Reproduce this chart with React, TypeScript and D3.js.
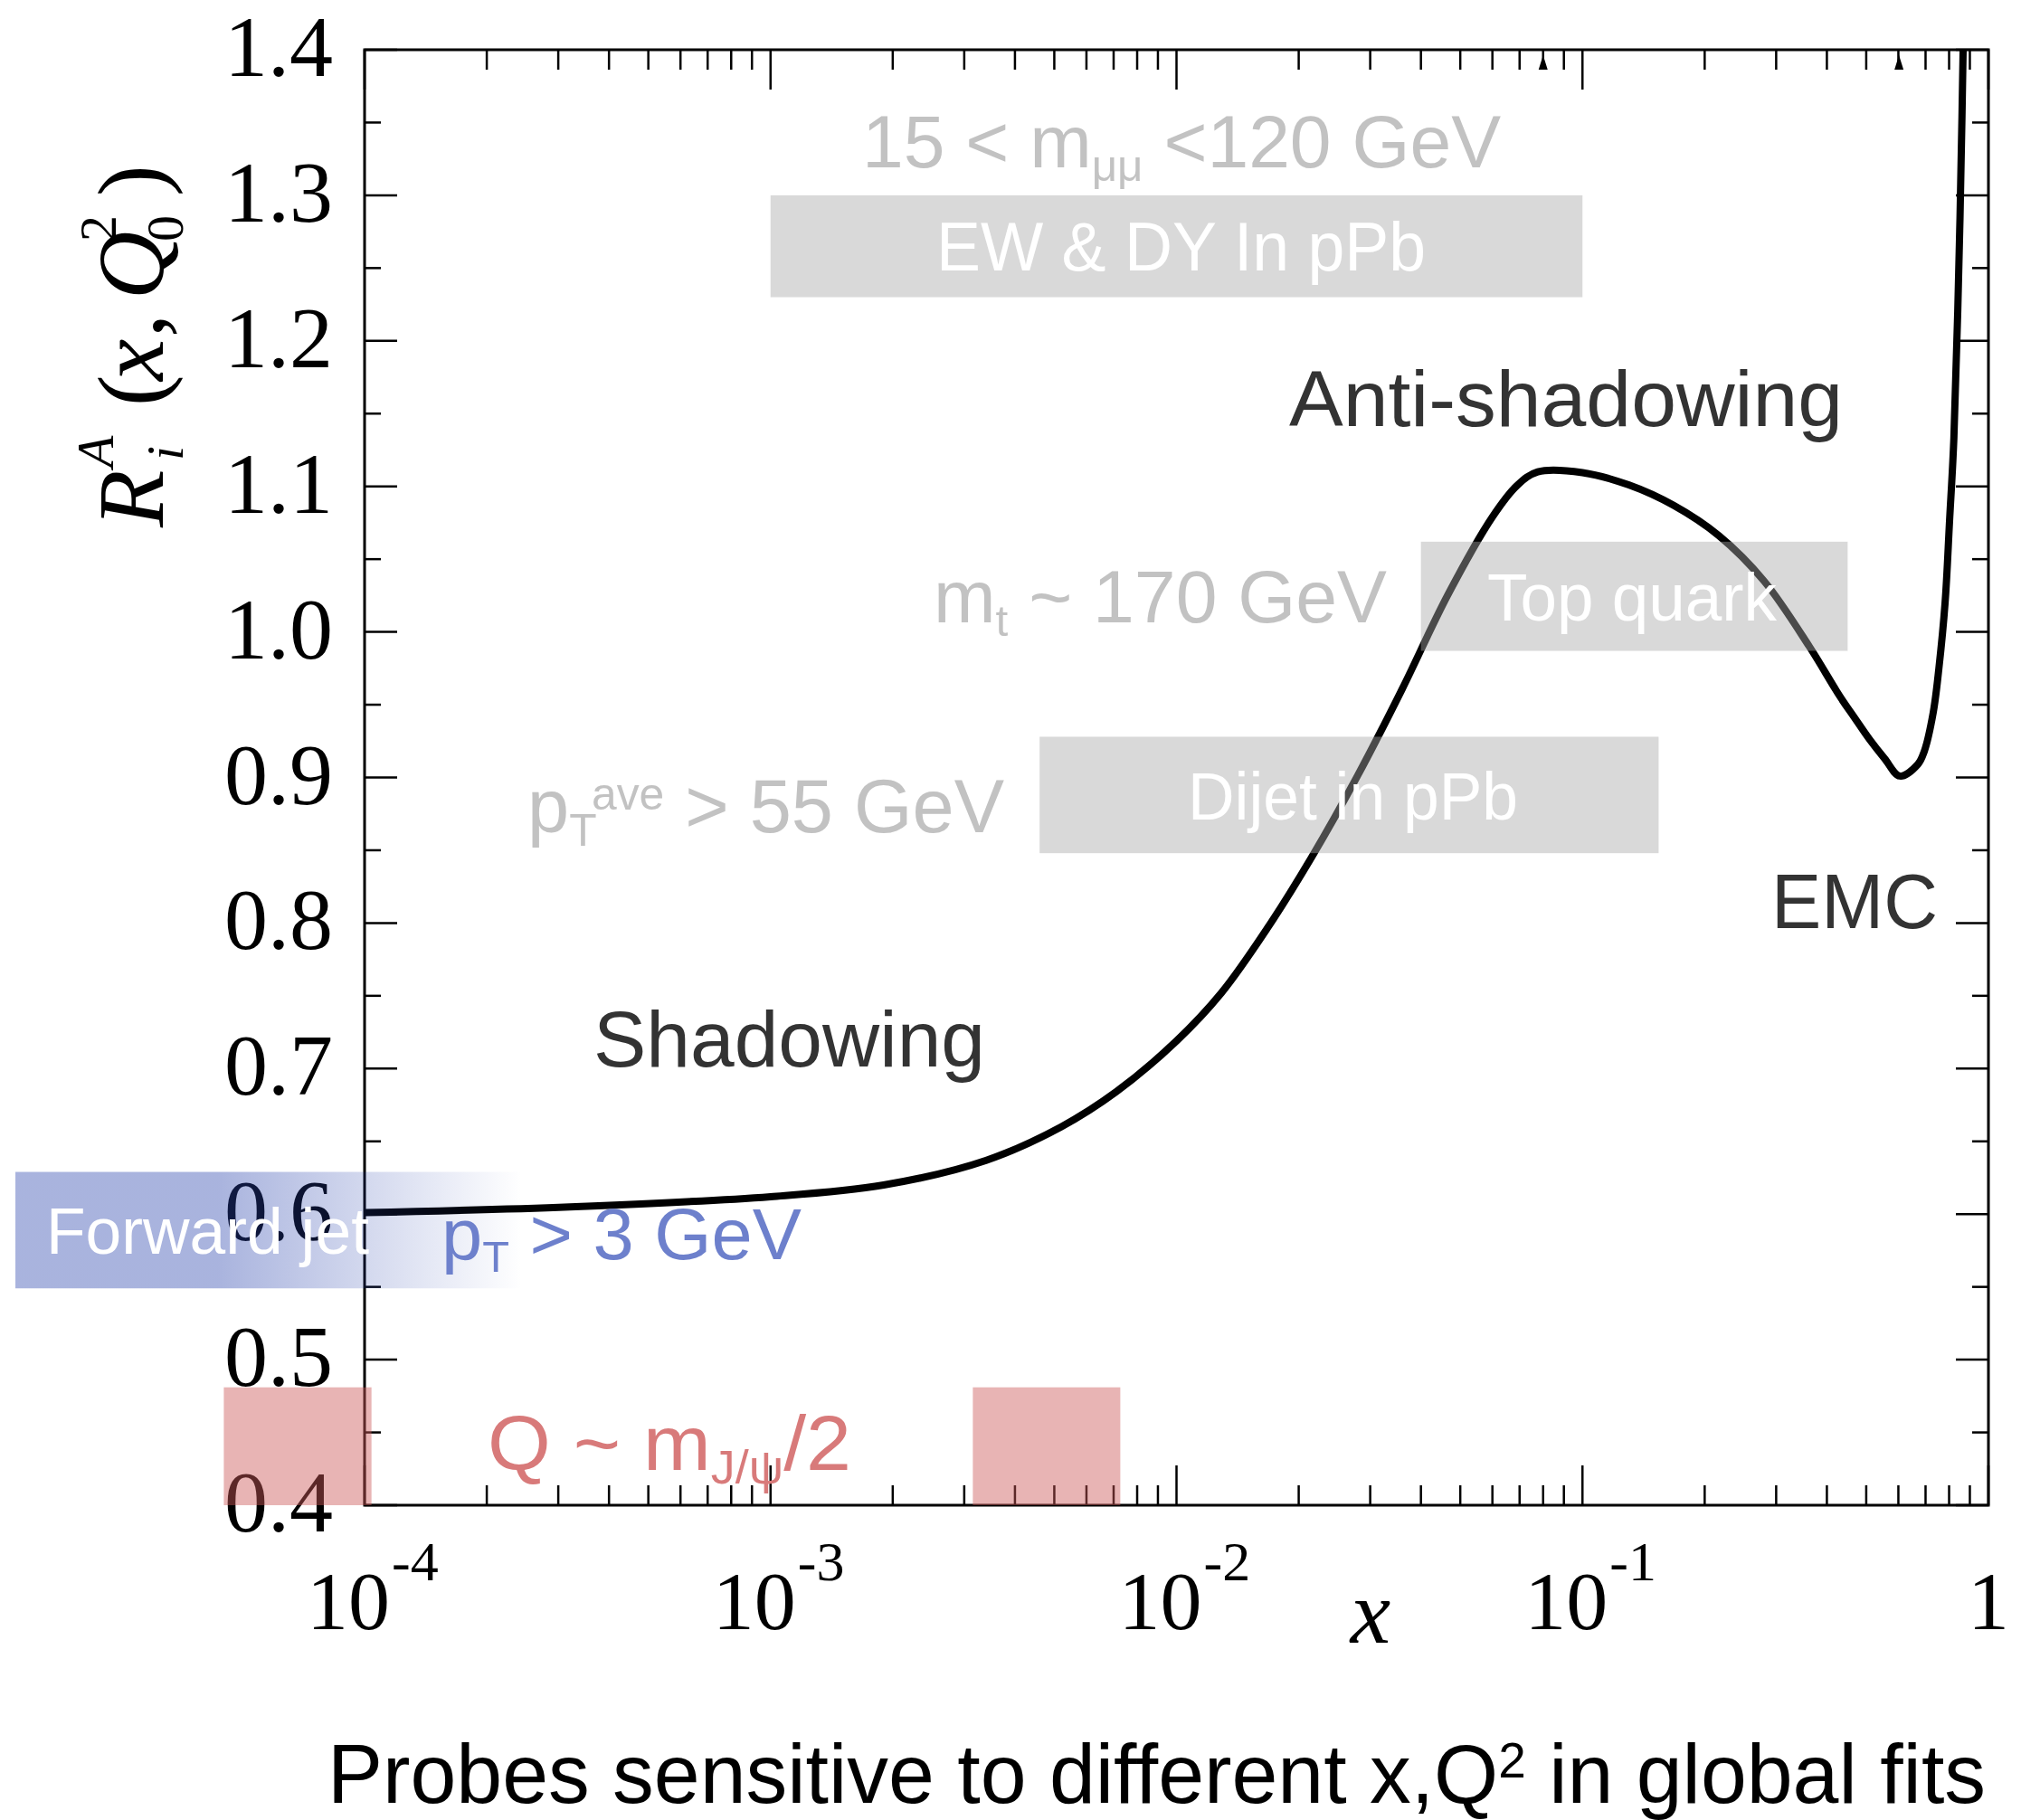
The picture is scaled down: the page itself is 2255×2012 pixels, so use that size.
import React from "react";
import * as d3 from "d3";

// ---------------- DATA ----------------
// nuclear modification R_i^A(x, Q0^2)
const curveX = [1.0e-4, 3.2e-4, 1.0e-3, 1.9e-3, 3.4e-3, 5.2e-3, 7.1e-3, 1.0e-2, 0.0129, 0.0167, 0.0215, 0.0279, 0.036, 0.0465, 0.06, 0.069, 0.0776, 0.1, 0.13, 0.1675, 0.217, 0.28, 0.362, 0.43, 0.468, 0.51, 0.555, 0.605, 0.67, 0.695, 0.731, 0.755, 0.782, 0.802, 0.822, 0.851, 0.866, 0.881];
const curveR = [0.601, 0.605, 0.612, 0.62, 0.637, 0.66, 0.684, 0.719, 0.752, 0.796, 0.845, 0.901, 0.961, 1.025, 1.079, 1.1006, 1.11, 1.1095, 1.101, 1.087, 1.066, 1.035, 0.99, 0.956, 0.941, 0.926, 0.913, 0.901, 0.909, 0.918, 0.9445, 0.975, 1.02, 1.076, 1.133, 1.284, 1.398, 1.52];

// probe regions (x range, R range)
const grayProbeNames = ["EW & DY In pPb", "Top quark", "Dijet in pPb"];
const grayProbeXMin = [1.0e-3, 0.04, 0.0046];
const grayProbeXMax = [0.1, 0.45, 0.154];
const grayProbeRMin = [1.23, 0.987, 0.848];
const grayProbeRMax = [1.30, 1.062, 0.928];

const jpsiXMin = [4.5e-5, 3.15e-3];
const jpsiXMax = [1.04e-4, 7.27e-3];
const jpsiRMin = [0.4, 0.4];
const jpsiRMax = [0.481, 0.481];

const fwdJetXMin = [1.38e-5];
const fwdJetXMax = [2.44e-4];
const fwdJetRMin = [0.549];
const fwdJetRMax = [0.629];

const topMarkerX = [0.08, 0.602];

const yTickValues = [0.4, 0.5, 0.6, 0.7, 0.8, 0.9, 1.0, 1.1, 1.2, 1.3, 1.4];
const yTickLabels = ["0.4", "0.5", "0.6", "0.7", "0.8", "0.9", "1.0", "1.1", "1.2", "1.3", "1.4"];
const xTickExponents = [-4, -3, -2, -1, 0];

// ---------------- LAYOUT ----------------
const W = 2255;
const H = 2012;
const L = 403, R = 2198, T = 55, B = 1664;
const SANS = "'Liberation Sans', Arial, Helvetica, sans-serif";
const SERIF = "'Liberation Serif', 'Times New Roman', serif";
const GRAY_TXT = "#c2c2c2";
const DARK_TXT = "#333333";
const BLUE_TXT = "#6d80cc";
const RED_TXT = "#d87a7a";

type Part = [string, string?];
function RichText(props: { x: number; y: number; size: number; fill: string; parts: Part[]; width?: number; family?: string }) {
  const { x, y, size, fill, parts, width, family } = props;
  let shift = 0;
  return (
    <text
      x={x}
      y={y}
      fontSize={size}
      fill={fill}
      fontFamily={family || SANS}
      style={{ whiteSpace: "pre" }}
      {...(width ? { textLength: width, lengthAdjust: "spacingAndGlyphs" } : {})}
    >
      {parts.map(([t, kind], i) => {
        const target = kind === "sub" ? size * 0.18 : kind === "sup" ? -size * 0.3 : 0;
        const dy = target - shift;
        shift = target;
        return (
          <tspan key={i} dy={dy} fontSize={kind ? size * 0.6 : size}>
            {t}
          </tspan>
        );
      })}
    </text>
  );
}

export default function App() {
  const x = d3.scaleLog().domain([1e-4, 1]).range([L, R]);
  const y = d3.scaleLinear().domain([0.4, 1.4]).range([B, T]);

  const pts: [number, number][] = curveX.map((v, i) => [x(v), y(curveR[i])]);
  const line = d3.line().curve(d3.curveCatmullRom.alpha(0.5))(pts) || "";

  const xTicks = x.ticks();
  const isMajor = (t: number) => Math.abs(Math.log10(t) - Math.round(Math.log10(t))) < 1e-6;
  const yTicks = d3.range(0, 21).map((k) => 0.4 + k * 0.05);

  return (
    <svg width={W} height={H} style={{ position: "absolute", left: 0, top: 0, background: "#fff" }}>
      <defs>
        <clipPath id="plotClip">
          <rect x={L} y={T} width={R - L} height={B - T} />
        </clipPath>
        <linearGradient id="fwdGrad" x1="0" x2="1" y1="0" y2="0">
          <stop offset="0" stopColor="rgb(40,66,172)" stopOpacity={0.4} />
          <stop offset="0.4" stopColor="rgb(40,66,172)" stopOpacity={0.4} />
          <stop offset="1" stopColor="rgb(40,66,172)" stopOpacity={0} />
        </linearGradient>
      </defs>
      <rect x={0} y={0} width={W} height={H} fill="#fff" />

      {/* frame */}
      <rect x={L} y={T} width={R - L} height={B - T} fill="none" stroke="#000" strokeWidth={3} />

      {/* x ticks bottom + top */}
      {xTicks.map((t, i) => {
        const len = isMajor(t) ? 44 : 22;
        const px = x(t);
        return (
          <g key={"xt" + i} stroke="#000" strokeWidth={2.5}>
            <line x1={px} x2={px} y1={B} y2={B - len} />
            <line x1={px} x2={px} y1={T} y2={T + len} />
          </g>
        );
      })}
      {/* y ticks left + right */}
      {yTicks.map((v, i) => {
        const len = i % 2 === 0 ? 36 : 18;
        const py = y(v);
        return (
          <g key={"yt" + i} stroke="#000" strokeWidth={2.5}>
            <line x1={L} x2={L + len} y1={py} y2={py} />
            <line x1={R} x2={R - len} y1={py} y2={py} />
          </g>
        );
      })}
      {/* top markers */}
      {topMarkerX.map((v, i) => (
        <path key={"tm" + i} d={`M${x(v) - 5},${T + 22} L${x(v) + 5},${T + 22} L${x(v)},${T + 6} Z`} fill="#000" />
      ))}

      {/* y tick labels */}
      {yTickValues.map((v, i) => (
        <text key={"yl" + i} x={368} y={y(v) + 29} textAnchor="end" fontFamily={SERIF} fontSize={96} fill="#000">
          {yTickLabels[i]}
        </text>
      ))}
      {/* x tick labels */}
      {xTickExponents.map((e, i) => {
        const px = x(Math.pow(10, e));
        if (e === 0)
          return (
            <text key={"xl" + i} x={px} y={1801} textAnchor="middle" fontFamily={SERIF} fontSize={92} fill="#000">
              1
            </text>
          );
        return (
          <text key={"xl" + i} x={px - 64} y={1801} fontFamily={SERIF} fontSize={92} fill="#000">
            10
            <tspan fontSize={62} dy={-54} dx={2}>{"-" + -e}</tspan>
          </text>
        );
      })}
      {/* axis titles */}
      <text x={1515} y={1816} textAnchor="middle" fontFamily={SERIF} fontStyle="italic" fontSize={100} fill="#000">
        x
      </text>
      <g transform="translate(180,583) rotate(-90)" fontFamily={SERIF} fill="#000">
        <text x={0} y={0} fontSize={104} fontStyle="italic">R</text>
        <text x={66} y={-55} fontSize={58} fontStyle="italic">A</text>
        <text x={74} y={22} fontSize={58} fontStyle="italic">i</text>
        <text x={134} y={0} fontSize={104}>(</text>
        <text x={162} y={0} fontSize={104} fontStyle="italic">x</text>
        <text x={210} y={0} fontSize={104}>,</text>
        <text x={252} y={0} fontSize={104} fontStyle="italic">Q</text>
        <text x={316} y={-52} fontSize={58}>2</text>
        <text x={316} y={22} fontSize={58}>0</text>
        <text x={366} y={0} fontSize={104}>)</text>
      </g>

      {/* curve */}
      <path d={line} fill="none" stroke="#000" strokeWidth={8} strokeLinejoin="round" clipPath="url(#plotClip)" />

      {/* probe boxes */}
      {grayProbeNames.map((n, i) => (
        <rect
          key={"gb" + i}
          x={x(grayProbeXMin[i])}
          y={y(grayProbeRMax[i])}
          width={x(grayProbeXMax[i]) - x(grayProbeXMin[i])}
          height={y(grayProbeRMin[i]) - y(grayProbeRMax[i])}
          fill="rgb(169,169,169)"
          fillOpacity={0.44}
        />
      ))}
      {jpsiXMin.map((v, i) => (
        <rect
          key={"jb" + i}
          x={x(v)}
          y={y(jpsiRMax[i])}
          width={x(jpsiXMax[i]) - x(v)}
          height={y(jpsiRMin[i]) - y(jpsiRMax[i])}
          fill="rgb(204,89,89)"
          fillOpacity={0.45}
        />
      ))}
      {fwdJetXMin.map((v, i) => (
        <rect
          key={"fb" + i}
          x={x(v)}
          y={y(fwdJetRMax[i])}
          width={x(fwdJetXMax[i]) - x(v)}
          height={y(fwdJetRMin[i]) - y(fwdJetRMax[i])}
          fill="url(#fwdGrad)"
        />
      ))}

      {/* box labels */}
      <RichText x={1035} y={299} size={76} fill="#fff" parts={[[grayProbeNames[0]]]} width={541} />
      <RichText x={1644} y={686} size={74} fill="#fff" parts={[[grayProbeNames[1]]]} width={320} />
      <RichText x={1313} y={906} size={74} fill="#fff" parts={[[grayProbeNames[2]]]} width={365} />
      <RichText x={51} y={1386} size={73} fill="#fff" parts={[["Forward jet"]]} width={357} />

      {/* kinematic labels */}
      <RichText x={953} y={185} size={81} fill={GRAY_TXT} parts={[["15 < m"], ["μμ", "sub"], [" <120 GeV"]]} width={706} />
      <RichText x={1032} y={688} size={81} fill={GRAY_TXT} parts={[["m"], ["t", "sub"], [" ~ 170 GeV"]]} width={501} />
      <RichText x={583} y={920} size={83} fill={GRAY_TXT} parts={[["p"], ["T", "sub"], ["ave", "sup"], [" > 55 GeV"]]} width={527} />
      <RichText x={488} y={1392} size={80} fill={BLUE_TXT} parts={[["p"], ["T", "sub"], [" > 3 GeV"]]} width={398} />
      <RichText x={539} y={1625} size={85} fill={RED_TXT} parts={[["Q ~ m"], ["J/ψ", "sub"], ["/2"]]} width={402} />

      {/* region labels */}
      <RichText x={1425} y={471} size={88} fill={DARK_TXT} parts={[["Anti-shadowing"]]} width={612} />
      <RichText x={1958} y={1026} size={86} fill={DARK_TXT} parts={[["EMC"]]} width={184} />
      <RichText x={656} y={1179} size={88} fill={DARK_TXT} parts={[["Shadowing"]]} width={433} />

      {/* caption */}
      <RichText x={362} y={1993} size={92} fill="#000" parts={[["Probes sensitive to different x,Q"], ["2", "sup"], [" in global fits"]]} width={1833} />
    </svg>
  );
}
